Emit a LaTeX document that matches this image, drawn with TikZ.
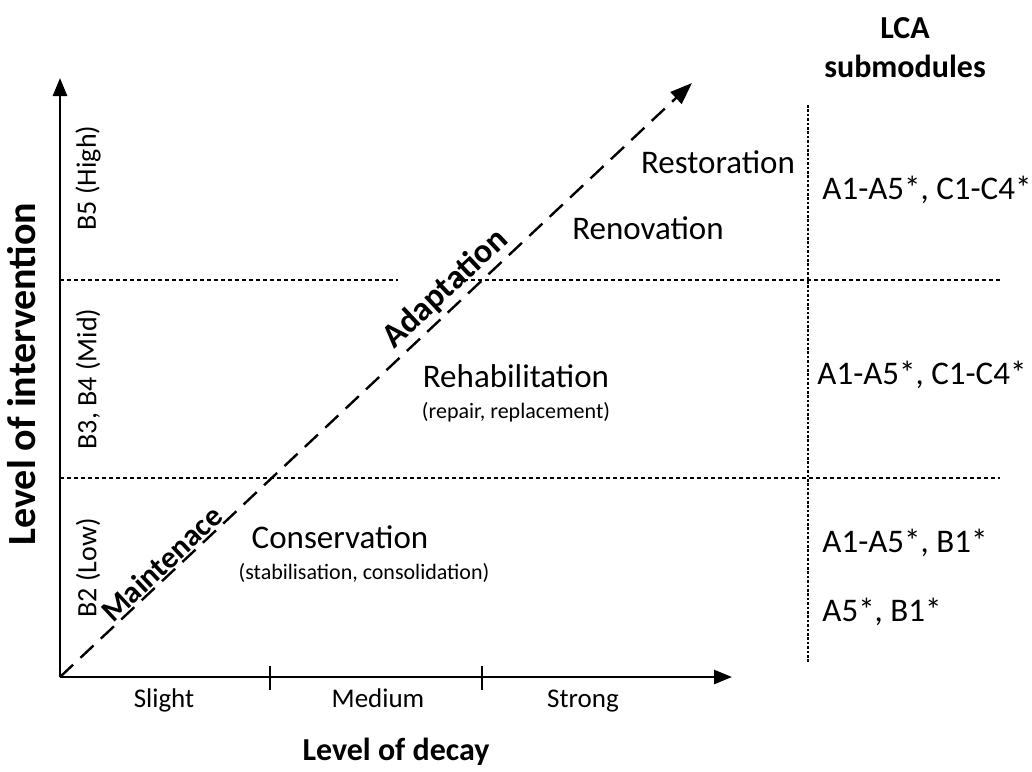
\documentclass[tikz,border=0pt]{standalone}
\usepackage{fontspec}
\setmainfont{Carlito}
\usetikzlibrary{arrows.meta, positioning}

\begin{document}
\begin{tikzpicture}[
    x=0.5pt, y=-0.5pt,
    every node/.append style={inner sep=0pt},
    axis/.style={line width=1.3pt, -{Triangle[length=9pt, width=7pt]}},
    trend/.style={line width=1.2pt, dash pattern=on 9pt off 5pt,
                  -{Triangle[length=11pt, width=8pt]}},
    band/.style={line width=0.9pt, dash pattern=on 2pt off 1.5pt},
    split/.style={line width=1.3pt, dash pattern=on 1.3pt off 0.9pt},
    stage/.style={font=\fontsize{16.5}{18}\selectfont},
    note/.style={font=\fontsize{11}{12}\selectfont},
    level/.style={font=\fontsize{13.5}{15}\selectfont, anchor=base},
    blevel/.style={font=\fontsize{14}{16}\selectfont, rotate=90},
    title/.style={font=\bfseries\fontsize{16}{19.5}\selectfont, align=center},
    module/.style={font=\fontsize{16.5}{18}\selectfont, anchor=west}
  ]
  \useasboundingbox (0,0) rectangle (1032,771);

  % axes
  \coordinate (origin) at (60,677);
  \coordinate (ytop)   at (60,78);
  \coordinate (xend)   at (732,677);
  \coordinate (dend)   at (692,83);
  \draw[axis] (origin) -- (ytop);
  \draw[axis] (origin) -- (xend);
  \foreach \tx in {270,482}
    \draw[line width=0.8pt] (\tx,666) -- (\tx,690);

  % bands
  \coordinate (hiL)  at (60,280);
  \coordinate (hiM1) at (398,280);
  \coordinate (hiM2) at (457,280);
  \coordinate (hiR)  at (1000,280);
  \coordinate (loL)  at (60,478);
  \coordinate (loR)  at (1000,478);
  \coordinate (vtop) at (808,105);
  \coordinate (vbot) at (808,662);
  \draw[band] (hiL) -- (hiM1);
  \draw[band] (hiM2) -- (hiR);
  \draw[band] (loL) -- (loR);
  \draw[split] (vtop) -- (vbot);

  % diagonal
  \draw[trend] (origin) -- (dend)
    node[pos=0.175, sloped, above=0.5pt, font=\bfseries\fontsize{15.5}{17}\selectfont] (maint) {Maintenace}
    node[pos=0.63, sloped, above=1.5pt, font=\bfseries\fontsize{17}{19}\selectfont] (adapt) {Adaptation};

  % axis labels
  \node[blevel] (bhigh) at (88,178) {B5 (High)};
  \node[blevel] (bmid)  at (88,379) {B3, B4 (Mid)};
  \node[blevel] (blow)  at (88,568) {B2 (Low)};
  \node[title, rotate=90, font=\bfseries\fontsize{20}{22}\selectfont] (ylab) at (22,374) {Level of intervention};
  \node[level] (slight) at (164,707) {Slight};
  \node[level] (medium) at (378,707) {Medium};
  \node[level] (strong) at (583,707) {Strong};
  \node[title] (xlab) at (396,752) {Level of decay};

  % stages
  \node[stage] (resto) at (718,162) {Restoration};
  \node[stage] (renov) at (648,228) {Renovation};
  \node[stage] (rehab) at (516,376) {Rehabilitation};
  \node[note, below=7pt of rehab] (rehabn) {(repair, replacement)};
  \node[stage] (cons) at (340,537) {Conservation};
  \node[note, below=7pt of cons, xshift=12pt] (consn) {(stabilisation, consolidation)};

  % LCA submodules
  \node[title] (lca) at (905,48) {LCA\\submodules};
  \node[module] (modhi)  at (822,190) {A1-A5*, C1-C4*};
  \node[module] (modmid) at (817,375) {A1-A5*, C1-C4*};
  \node[module] (modlo)  at (822,543) {A1-A5*, B1*};
  \node[module] (modmin) at (822,612) {A5*, B1*};
\end{tikzpicture}
\end{document}
